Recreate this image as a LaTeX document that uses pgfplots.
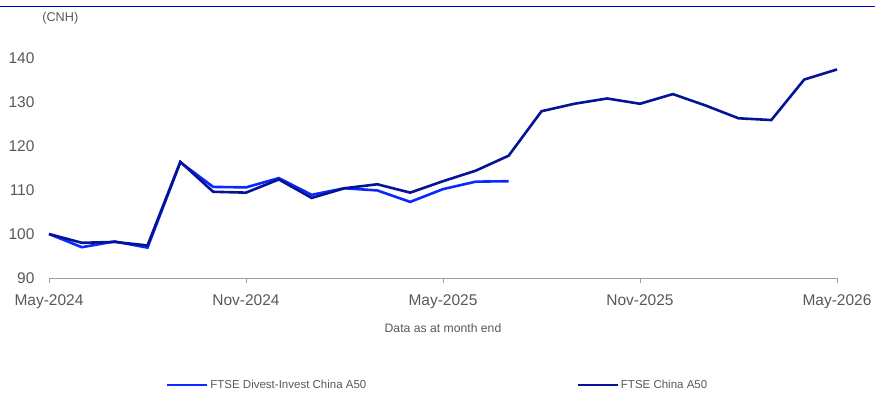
\documentclass[border=0pt]{standalone}
\usepackage{pgfplots}
\pgfplotsset{compat=1.18}
\usepackage{fontspec}
\setmainfont{Liberation Sans}
\definecolor{divblue}{RGB}{10,40,255}
\definecolor{navy}{RGB}{5,20,150}
\definecolor{txtgray}{RGB}{89,89,89}
\definecolor{gridgray}{RGB}{217,217,217}
\definecolor{axgray}{RGB}{160,160,160}
\begin{document}
\begin{tikzpicture}[x=1pt,y=1pt]
\path[use as bounding box] (0,0) rectangle (875,394);
\draw[color=blue!85!black, line width=0.8pt] (0,388) -- (875,388);
\begin{axis}[
  at={(49pt,116pt)}, anchor=south west,
  scale only axis, width=788pt, height=220pt,
  xmin=0, xmax=24, ymin=90, ymax=140,
  axis y line=none, axis x line*=bottom,
  axis line style={axgray, line width=1pt, -},
  xtick={0,6,12,18,24},
  xticklabels={May-2024,Nov-2024,May-2025,Nov-2025,May-2026},
  ytick={90,100,...,140},
  ymajorgrids, grid style={gridgray, line width=1.2pt},
  tick align=outside, major tick length=5pt,
  xtick style={axgray, line width=1pt},
  /pgf/number format/assume math mode=true,
  tick label style={font=\fontsize{15.5}{18}\selectfont, text=txtgray},
  xticklabel style={yshift=-8pt},
  xlabel={Data as at month end},
  xlabel style={at={(axis description cs:0.5,-0.227)}, anchor=center, font=\fontsize{12.2}{14}\selectfont, text=txtgray},
  clip=false,
  legend columns=2,
  legend style={at={(axis description cs:0.148,-0.486)}, anchor=west, draw=none, fill=none,
    font=\fontsize{11.5}{13}\selectfont, text=txtgray, inner sep=0pt,
    /tikz/every even column/.append style={column sep=208pt}},
  legend image code/.code={\draw[#1] (0pt,0pt) -- (40pt,0pt);},
]
\pgfplotsinvokeforeach{90,100,110,120,130,140}{
  \node[anchor=east, font=\fontsize{15.5}{18}\selectfont, text=txtgray] at (axis cs:0,#1) [xshift=-11pt] {#1};
}
\addplot[divblue, line width=2.6pt] coordinates {
(0,100) (1,97.0) (2,98.3) (3,96.9) (4,116.3) (5,110.7) (6,110.6) (7,112.7)
(8,108.9) (9,110.4) (10,109.9) (11,107.3) (12,110.2) (13,111.9) (14,112.0)
};
\addlegendentry{FTSE Divest-Invest China A50}
\addplot[navy, line width=2.6pt] coordinates {
(0,100) (1,98.0) (2,98.2) (3,97.4) (4,116.4) (5,109.6) (6,109.4) (7,112.4)
(8,108.2) (9,110.4) (10,111.3) (11,109.4) (12,112.0) (13,114.4) (14,117.8)
(15,127.9) (16,129.6) (17,130.8) (18,129.6) (19,131.8) (20,129.2) (21,126.3)
(22,125.9) (23,135.1) (24,137.4)
};
\addlegendentry{FTSE China A50}
\node[anchor=west, font=\fontsize{12.7}{15}\selectfont, text=txtgray] at (axis description cs:-0.013,1.18) {(CNH)};
\end{axis}
\end{tikzpicture}
\end{document}
